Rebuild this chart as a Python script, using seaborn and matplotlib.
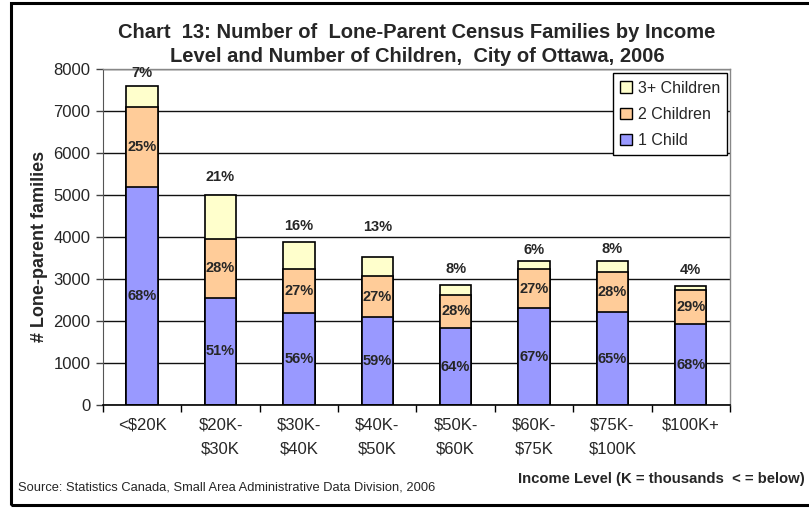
import numpy as np
import pandas as pd
import matplotlib
matplotlib.use("Agg")
import matplotlib.pyplot as plt
import seaborn as sns
from matplotlib.patches import Patch, Rectangle

# data
income = ["<$20K", "$20K-\n$30K", "$30K-\n$40K", "$40K-\n$50K",
          "$50K-\n$60K", "$60K-\n$75K", "$75K-\n$100K", "$100K+"]
one_child = [5200, 2550, 2180, 2100, 1830, 2300, 2210, 1920]
two_children = [1900, 1400, 1060, 960, 800, 930, 950, 810]
three_plus = [500, 1050, 630, 470, 230, 200, 260, 110]
pct_one = ["68%", "51%", "56%", "59%", "64%", "67%", "65%", "68%"]
pct_two = ["25%", "28%", "27%", "27%", "28%", "27%", "28%", "29%"]
pct_three = ["7%", "21%", "16%", "13%", "8%", "6%", "8%", "4%"]

# the top labels were nudged by hand in the original, offset in pixels above the bar
top_lab_off = [13, 18, 16, 30, 16, 11, 12, 16]

c_one = "#9999FF"
c_two = "#FFCC99"
c_three = "#FFFFCC"

df = pd.DataFrame({"income": income, "one": one_child, "two": two_children, "three": three_plus})
df["lvl2"] = df["one"] + df["two"]
df["total"] = df["lvl2"] + df["three"]

sns.set_style("white")
plt.rcParams['font.family'] = ['Liberation Sans', 'DejaVu Sans']

fig = plt.figure(figsize=(8.09, 5.08), dpi=100)
ax = fig.add_axes([0.1273, 0.2028, 0.7750, 0.6614])

# stacked bars drawn as overlapping cumulative totals
sns.barplot(data=df, x="income", y="total", color=c_three, saturation=1, width=0.4,
            edgecolor="black", linewidth=1.2, ax=ax)
sns.barplot(data=df, x="income", y="lvl2", color=c_two, saturation=1, width=0.4,
            edgecolor="black", linewidth=1.2, ax=ax)
sns.barplot(data=df, x="income", y="one", color=c_one, saturation=1, width=0.4,
            edgecolor="black", linewidth=1.2, ax=ax)

ax.set_ylim(0, 8000)
ax.set_xlim(-0.5, 7.5)
ax.set_yticks(range(0, 8001, 1000))
ax.yaxis.grid(True, color="#111111", linewidth=1)
ax.set_axisbelow(True)
ax.set_xlabel("")
ax.set_ylabel("# Lone-parent families", fontsize=13, fontweight="bold")
ax.yaxis.set_label_coords(-0.088, 0.473)

ax.tick_params(axis="y", labelsize=12, length=5, width=1, color="#444444", direction="out", left=True, pad=4)
ax.tick_params(axis="x", which="major", labelsize=12, length=0, pad=9)
for lab in ax.get_xticklabels():
    lab.set_linespacing(1.75)
ax.set_xticks(np.arange(-0.5, 8, 1), minor=True)
ax.tick_params(axis="x", which="minor", length=5, width=1, color="black", direction="out", bottom=True)

for s in ["top", "right"]:
    ax.spines[s].set_color("#888888")
    ax.spines[s].set_linewidth(1)
ax.spines["left"].set_color("#555555")
ax.spines["bottom"].set_color("black")
ax.spines["bottom"].set_linewidth(1.2)

for i in range(len(income)):
    ax.text(i, df["one"][i] / 2, pct_one[i], ha="center", va="center",
            fontsize=10.5, fontweight="bold")
    ax.text(i, df["one"][i] + df["two"][i] / 2, pct_two[i], ha="center", va="center",
            fontsize=10.5, fontweight="bold")
    ax.annotate(pct_three[i], (i, df["total"][i]), xytext=(0, top_lab_off[i] * 0.72),
                textcoords="offset points", ha="center", va="center",
                fontsize=10.5, fontweight="bold")

handles = [Patch(facecolor=c_three, edgecolor="black", label="3+ Children"),
           Patch(facecolor=c_two, edgecolor="black", label="2 Children"),
           Patch(facecolor=c_one, edgecolor="black", label="1 Child")]
leg = ax.legend(handles=handles, loc="upper right", bbox_to_anchor=(0.996, 0.987),
                fontsize=11.5, frameon=True, fancybox=False, framealpha=1,
                edgecolor="black", handlelength=0.7, handleheight=0.7,
                handletextpad=0.4, labelspacing=0.7, borderpad=0.45, borderaxespad=0)
leg.get_frame().set_linewidth(1)

fig.text(0.5155, 0.912, "Chart  13: Number of  Lone-Parent Census Families by Income\n"
         "Level and Number of Children,  City of Ottawa, 2006",
         ha="center", va="center", fontsize=14.5, fontweight="bold", linespacing=1.35)
fig.text(0.995, 0.057, "Income Level (K = thousands  < = below)", ha="right", va="center",
         fontsize=10.7, fontweight="bold")
fig.text(0.022, 0.041, "Source: Statistics Canada, Small Area Administrative Data Division, 2006",
         ha="left", va="center", fontsize=9.25)

# outer frame of the chart
fig.patches.append(Rectangle((11 / 809, 3 / 508), 1.0, 502 / 508, transform=fig.transFigure,
                             fill=False, edgecolor="black", linewidth=2.2))

fig.savefig("out.png", dpi=100)
